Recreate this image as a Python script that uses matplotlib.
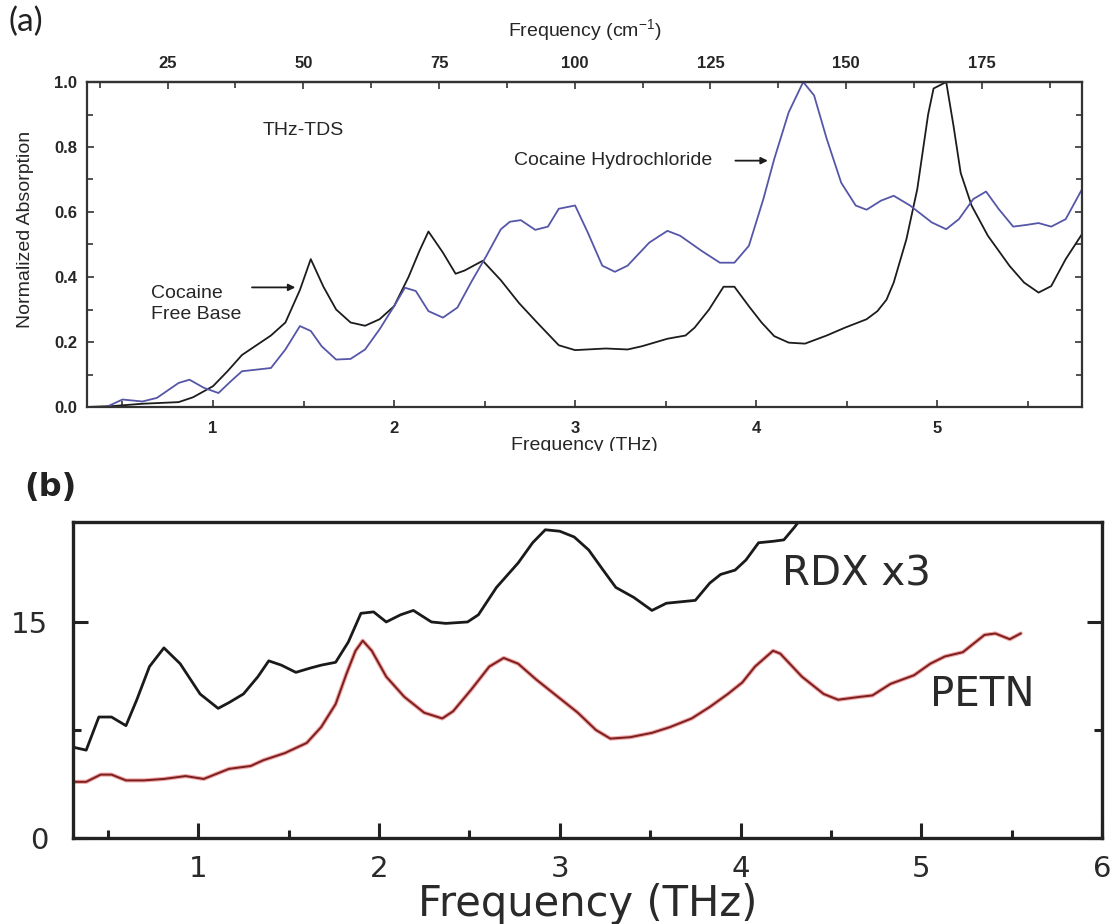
import matplotlib
matplotlib.use("Agg")
import matplotlib.pyplot as plt
from matplotlib.ticker import MultipleLocator, FixedLocator, FormatStrFormatter
from matplotlib.transforms import Bbox, TransformedBbox

# ---------------- Panel (a) data : THz-TDS of cocaine ----------------
fb_x = [0.30, 0.45, 0.61, 0.81, 0.89, 1.00, 1.08, 1.16, 1.24, 1.32, 1.40, 1.48, 1.54, 1.61,
        1.68, 1.76, 1.84, 1.92, 2.00, 2.08, 2.14, 2.19, 2.27, 2.34, 2.39, 2.49, 2.59, 2.69,
        2.79, 2.91, 3.00, 3.10, 3.17, 3.29, 3.37, 3.51, 3.61, 3.66, 3.74, 3.82, 3.88, 3.96,
        4.03, 4.10, 4.18, 4.27, 4.39, 4.49, 4.61, 4.67, 4.72, 4.76, 4.83, 4.89, 4.95, 4.98,
        5.05, 5.09, 5.13, 5.19, 5.28, 5.40, 5.48, 5.56, 5.63, 5.71, 5.80]
fb_y = [0.0, 0.003, 0.01, 0.015, 0.03, 0.064, 0.11, 0.16, 0.19, 0.22, 0.26, 0.36, 0.455, 0.37,
        0.30, 0.26, 0.25, 0.27, 0.31, 0.40, 0.48, 0.54, 0.475, 0.41, 0.42, 0.45, 0.39, 0.32,
        0.26, 0.19, 0.175, 0.178, 0.18, 0.177, 0.187, 0.21, 0.22, 0.244, 0.30, 0.37, 0.37, 0.31,
        0.26, 0.218, 0.198, 0.195, 0.22, 0.244, 0.27, 0.295, 0.33, 0.383, 0.516, 0.67, 0.90, 0.98,
        1.0, 0.866, 0.72, 0.62, 0.527, 0.434, 0.383, 0.352, 0.372, 0.455, 0.532]

hcl_x = [0.41, 0.50, 0.61, 0.69, 0.81, 0.87, 0.95, 1.03, 1.10, 1.16, 1.24, 1.32, 1.40, 1.48,
         1.54, 1.60, 1.68, 1.76, 1.84, 1.92, 2.00, 2.06, 2.12, 2.19, 2.27, 2.35, 2.43, 2.51,
         2.59, 2.64, 2.70, 2.78, 2.85, 2.91, 3.00, 3.07, 3.15, 3.22, 3.29, 3.41, 3.51, 3.58,
         3.70, 3.80, 3.88, 3.96, 4.04, 4.10, 4.18, 4.26, 4.32, 4.39, 4.47, 4.55, 4.61, 4.69,
         4.76, 4.85, 4.97, 5.05, 5.12, 5.20, 5.27, 5.34, 5.42, 5.49, 5.56, 5.63, 5.71, 5.80]
hcl_y = [0.0, 0.023, 0.017, 0.028, 0.074, 0.084, 0.059, 0.043, 0.08, 0.11, 0.115, 0.12, 0.177,
         0.249, 0.234, 0.187, 0.146, 0.148, 0.177, 0.239, 0.31, 0.367, 0.357, 0.295, 0.275,
         0.306, 0.388, 0.465, 0.547, 0.57, 0.575, 0.545, 0.555, 0.61, 0.62, 0.537, 0.435, 0.416,
         0.435, 0.506, 0.542, 0.527, 0.48, 0.444, 0.444, 0.496, 0.64, 0.763, 0.907, 1.0, 0.959,
         0.825, 0.69, 0.62, 0.607, 0.635, 0.65, 0.62, 0.568, 0.547, 0.578, 0.64, 0.663, 0.609,
         0.555, 0.56, 0.566, 0.555, 0.578, 0.67]

top_ticks_cm = [25, 50, 75, 100, 125, 150, 175]

# ---------------- Panel (b) data : RDX x3 and PETN ----------------
rdx_x = [0.31, 0.38, 0.45, 0.52, 0.60, 0.66, 0.73, 0.81, 0.90, 1.01, 1.11, 1.17, 1.25, 1.33,
         1.39, 1.46, 1.54, 1.62, 1.68, 1.76, 1.83, 1.90, 1.97, 2.04, 2.12, 2.19, 2.29, 2.37,
         2.49, 2.55, 2.65, 2.77, 2.85, 2.92, 3.00, 3.08, 3.16, 3.24, 3.31, 3.41, 3.51, 3.59,
         3.67, 3.75, 3.83, 3.89, 3.97, 4.03, 4.10, 4.18, 4.24, 4.30, 4.36, 4.42]
rdx_y = [6.3, 6.1, 8.4, 8.4, 7.8, 9.6, 11.9, 13.2, 12.1, 10.0, 9.0, 9.4, 10.0, 11.2,
         12.3, 12.0, 11.5, 11.8, 12.0, 12.2, 13.6, 15.6, 15.7, 15.0, 15.5, 15.8, 15.0, 14.9,
         15.0, 15.5, 17.4, 19.1, 20.5, 21.4, 21.3, 20.9, 20.0, 18.6, 17.4, 16.7, 15.8, 16.3,
         16.4, 16.5, 17.7, 18.3, 18.6, 19.3, 20.5, 20.6, 20.7, 21.6, 22.6, 23.5]

petn_x = [0.31, 0.38, 0.46, 0.52, 0.60, 0.70, 0.81, 0.93, 1.03, 1.09, 1.17, 1.29, 1.36, 1.48,
          1.60, 1.68, 1.76, 1.82, 1.87, 1.91, 1.96, 2.04, 2.14, 2.25, 2.35, 2.41, 2.51, 2.61,
          2.69, 2.77, 2.87, 3.00, 3.10, 3.20, 3.28, 3.39, 3.51, 3.61, 3.73, 3.83, 3.93, 4.01,
          4.08, 4.18, 4.22, 4.34, 4.46, 4.54, 4.66, 4.73, 4.83, 4.96, 5.05, 5.13, 5.23, 5.29,
          5.35, 5.41, 5.49, 5.55]
petn_y = [3.9, 3.9, 4.4, 4.4, 4.0, 4.0, 4.1, 4.3, 4.1, 4.4, 4.8, 5.0, 5.4, 5.9,
          6.6, 7.7, 9.3, 11.4, 13.0, 13.7, 13.0, 11.2, 9.8, 8.7, 8.3, 8.8, 10.3, 11.9,
          12.5, 12.1, 11.0, 9.7, 8.7, 7.5, 6.9, 7.0, 7.3, 7.7, 8.3, 9.1, 10.0, 10.8,
          11.9, 13.0, 12.8, 11.2, 10.0, 9.6, 9.8, 9.9, 10.7, 11.3, 12.1, 12.6, 12.9, 13.5,
          14.1, 14.2, 13.8, 14.2]

THZ_TO_CM = 33.356

plt.rcParams['mathtext.fontset'] = 'custom'
plt.rcParams['mathtext.rm'] = 'Liberation Sans'
plt.rcParams['mathtext.it'] = 'Liberation Sans:italic'
plt.rcParams['mathtext.bf'] = 'Liberation Sans:bold'

W, H = 1119, 924
fig = plt.figure(figsize=(W / 100, H / 100), dpi=100)

FA = 'Liberation Sans'
TXT = '#262626'

# ================= Panel (a) =================
axa = fig.add_axes([87 / W, 1 - 407 / H, (1082 - 87) / W, (407 - 82) / H])
axa.plot(fb_x, fb_y, color='#1c1c1c', lw=1.3)
axa.plot(hcl_x, hcl_y, color='#5656a8', lw=1.3)
axa.set_xlim(0.304, 5.80)
axa.set_ylim(0.0, 1.0)
axa.xaxis.set_major_locator(MultipleLocator(1))
axa.xaxis.set_minor_locator(MultipleLocator(0.5))
axa.yaxis.set_major_locator(MultipleLocator(0.2))
axa.yaxis.set_minor_locator(MultipleLocator(0.1))
axa.yaxis.set_major_formatter(FormatStrFormatter('%.1f'))
axa.tick_params(which='both', direction='in', top=False, right=True, labelright=False,
                width=1.2, colors='#333333')
axa.tick_params(which='major', length=5)
axa.tick_params(which='minor', length=4)
axa.tick_params(axis='x', which='major', pad=10)
axa.tick_params(axis='y', which='major', pad=7)
for lab in axa.get_xticklabels() + axa.get_yticklabels():
    lab.set_fontfamily(FA)
    lab.set_fontsize(12)
    lab.set_fontweight('bold')
    lab.set_color(TXT)
for sp in axa.spines.values():
    sp.set_linewidth(1.6)
    sp.set_color('#333333')

sec = axa.secondary_xaxis('top', functions=(lambda f: f * THZ_TO_CM, lambda w: w / THZ_TO_CM))
sec.xaxis.set_major_locator(FixedLocator(top_ticks_cm))
sec.xaxis.set_minor_locator(FixedLocator([t - 12.5 for t in top_ticks_cm] + [top_ticks_cm[-1] + 12.5]))
sec.tick_params(which='both', direction='in', width=1.2, colors='#333333', pad=8)
sec.tick_params(which='major', length=5)
sec.tick_params(which='minor', length=4)
sec.spines['top'].set_linewidth(1.6)
sec.spines['top'].set_color('#333333')
for lab in sec.get_xticklabels():
    lab.set_fontfamily(FA)
    lab.set_fontsize(12)
    lab.set_fontweight('bold')
    lab.set_color(TXT)
sec.set_xlabel('Frequency (cm$^{-1}$)', fontfamily=FA, fontsize=14, color=TXT, labelpad=14)

axa.set_xlabel('Frequency (THz)', fontfamily=FA, fontsize=14, color=TXT)
axa.xaxis.set_label_coords(0.50, -0.117)
axa.xaxis.label.set_va('center')
axa.xaxis.label.set_clip_box(TransformedBbox(Bbox([[0, 1 - 451 / H], [1, 1]]), fig.transFigure))
axa.xaxis.label.set_clip_on(True)

axa.set_ylabel('Normalized Absorption', fontfamily=FA, fontsize=14, color=TXT)
axa.yaxis.set_label_coords(-0.062, 0.545)
axa.yaxis.label.set_va('center')

axa.text(1.50, 0.85, 'THz-TDS', fontfamily=FA, fontsize=14, color=TXT, ha='center', va='center')
axa.text(0.66, 0.317, 'Cocaine\nFree Base', fontfamily=FA, fontsize=14, color=TXT,
         ha='left', va='center', linespacing=1.25)
axa.annotate('', xy=(1.47, 0.368), xytext=(1.20, 0.368),
             arrowprops=dict(arrowstyle='-|>', color='#1c1c1c', lw=1.3, mutation_scale=10))
axa.text(2.66, 0.758, 'Cocaine Hydrochloride', fontfamily=FA, fontsize=14, color=TXT,
         ha='left', va='center')
axa.annotate('', xy=(4.08, 0.758), xytext=(3.87, 0.758),
             arrowprops=dict(arrowstyle='-|>', color='#1c1c1c', lw=1.3, mutation_scale=10))

fig.text(9 / W, 1 - 22 / H, '(a)', fontfamily='Lato', fontsize=24, color='#222222',
         ha='left', va='center')

# ================= Panel (b) =================
FB = 'DejaVu Sans'
axb = fig.add_axes([73 / W, 1 - 838 / H, (1102 - 73) / W, (838 - 522) / H])
axb.plot(rdx_x, rdx_y, color='#1a1a1a', lw=2.0)
axb.plot(petn_x, petn_y, color='#e85a5a', lw=3.0, alpha=0.55, solid_capstyle='round')
axb.plot(petn_x, petn_y, color='#7a1f1f', lw=1.4)
axb.set_xlim(0.307, 6.0)
axb.set_ylim(0, 21.94)
axb.xaxis.set_major_locator(MultipleLocator(1))
axb.xaxis.set_minor_locator(MultipleLocator(0.5))
axb.yaxis.set_major_locator(FixedLocator([0, 15]))
axb.yaxis.set_minor_locator(FixedLocator([7.5]))
axb.tick_params(which='both', direction='in', top=False, right=True, labelright=False,
                width=2.2, colors='#222222')
axb.tick_params(which='major', length=11)
axb.tick_params(which='minor', length=6)
axb.tick_params(axis='x', which='major', pad=12)
axb.tick_params(axis='y', which='major', pad=18)
for lab in axb.get_xticklabels() + axb.get_yticklabels():
    lab.set_fontfamily(FB)
    lab.set_fontsize(21)
    lab.set_color('#2a2a2a')
for sp in axb.spines.values():
    sp.set_linewidth(2.4)
    sp.set_color('#222222')

axb.set_xlabel('Frequency (THz)', fontfamily=FB, fontsize=30, color='#2a2a2a')
axb.xaxis.set_label_coords(0.50, -0.209)
axb.xaxis.label.set_va('center')

axb.text(4.23, 18.3, 'RDX x3', fontfamily=FB, fontsize=29, color='#2a2a2a', ha='left', va='center')
axb.text(5.05, 9.9, 'PETN', fontfamily=FB, fontsize=29, color='#2a2a2a', ha='left', va='center')

fig.text(24 / W, 1 - 487 / H, '(b)', fontfamily=FB, fontsize=23, fontweight='bold',
         color='#222222', ha='left', va='center')

fig.savefig('out.png', dpi=100)
